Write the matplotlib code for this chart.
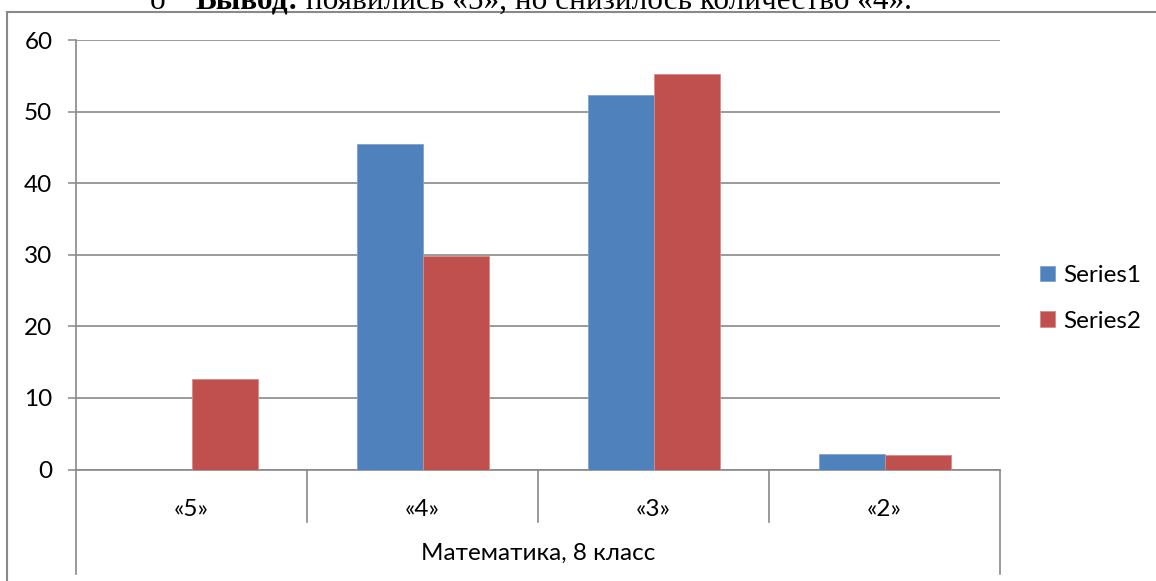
import matplotlib
matplotlib.use("Agg")
import matplotlib.pyplot as plt
import numpy as np
from matplotlib.lines import Line2D

categories = ["«5»", "«4»", "«3»", "«2»"]
series1 = [0, 45.5, 52.3, 2.2]
series2 = [12.7, 29.8, 55.3, 2.0]
series_names = ["Series1", "Series2"]
group_label = "Математика, 8 класс"
yticks = [0, 10, 20, 30, 40, 50, 60]
header_bold = "Вывод:"
header_rest = " появились «5», но снизилось количество «4»."

W, H = 1156, 581
plt.rcParams['font.family'] = ['Lato', 'DejaVu Sans']
fs = 17.5
grey = "#898989"

fig = plt.figure(figsize=(W / 100, H / 100), dpi=100)
ax = fig.add_axes([76 / W, (H - 469.5) / H, (1000 - 76) / W, (469.5 - 40.3) / H])

x = np.arange(len(categories))
bw = 66 / 231
ax.bar(x - bw / 2, series1, bw, color="#4F81BD", edgecolor="#7DA2D0", linewidth=0.6, label=series_names[0], zorder=3)
ax.bar(x + bw / 2, series2, bw, color="#C0504D", edgecolor="#D98A88", linewidth=0.6, label=series_names[1], zorder=3)

ax.set_xlim(-0.5, len(categories) - 0.5)
ax.set_ylim(0, 60)
ax.set_yticks(yticks)
ax.tick_params(axis='y', length=6, width=1.1, color=grey, labelsize=fs, pad=11)
ax.set_xticks([])
ax.yaxis.grid(True, color=grey, linewidth=1.2, zorder=0)
for s in ["top", "right"]:
    ax.spines[s].set_visible(False)
for s in ["left", "bottom"]:
    ax.spines[s].set_color(grey)
    ax.spines[s].set_linewidth(1.2)

# category labels and dividers below the axis
axh = 469.5 - 40.3
trans = ax.get_xaxis_transform()
for i, c in enumerate(categories):
    ax.text(i, -40.5 / axh, c, transform=trans, ha='center', va='center', fontsize=fs)
for xd in np.arange(0.5, len(categories) - 0.5):
    ax.plot([xd, xd], [0, -52 / axh], transform=trans, color=grey, lw=1.2, clip_on=False)
for xd in [-0.5, len(categories) - 0.5]:
    ax.plot([xd, xd], [0, -104 / axh], transform=trans, color=grey, lw=1.2, clip_on=False)
ax.text((len(categories) - 1) / 2, -84 / axh, group_label, transform=trans,
        ha='center', va='center', fontsize=fs)

ax.legend(loc='center left', bbox_to_anchor=(1040 / W, 1 - 298.5 / H), bbox_transform=fig.transFigure,
          frameon=False, fontsize=fs, handlelength=0.6, handleheight=0.6, handletextpad=0.35,
          labelspacing=1.0, borderpad=0, borderaxespad=0)

# chart frame (only left and top edges are visible)
fig.add_artist(Line2D([7 / W, 7 / W], [0, 1 - 12 / H], transform=fig.transFigure, color=grey, lw=1.5))
fig.add_artist(Line2D([7 / W, 1], [1 - 12 / H, 1 - 12 / H], transform=fig.transFigure, color=grey, lw=1.5))

# cut-off line of text above the chart
serif = ['Liberation Serif', 'DejaVu Serif']
hfs = 22.5
fig.text(150 / W, 1 - 9 / H, "о", family=serif, fontsize=hfs, va='baseline')
t1 = fig.text(195 / W, 1 - 9 / H, header_bold, family=serif, fontsize=hfs, weight='bold', va='baseline')
r = fig.canvas.get_renderer()
bb = t1.get_window_extent(r)
fig.text(bb.x1 / W, 1 - 9 / H, header_rest, family=serif, fontsize=hfs, va='baseline')

fig.savefig("out.png", dpi=100)
